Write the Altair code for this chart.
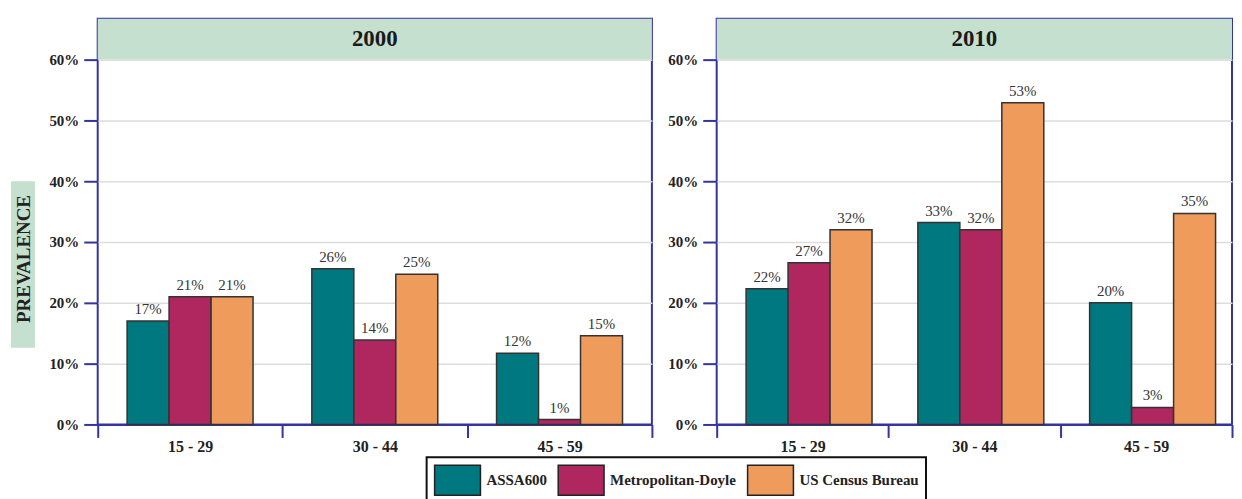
import altair as alt
import pandas as pd

groups = ["15 - 29", "30 - 44", "45 - 59"]
sources = ["ASSA600", "Metropolitan-Doyle", "US Census Bureau"]
colors = ["#00787f", "#b0265f", "#ee9b5b"]
years = ["2000", "2010"]
# values per age group, in source order
values_2000 = [[17.0, 21.0, 21.0], [25.6, 13.9, 24.7], [11.7, 0.8, 14.6]]
values_2010 = [[22.3, 26.6, 32.0], [33.2, 32.0, 52.9], [20.0, 2.8, 34.7]]
y_ticks = [0, 10, 20, 30, 40, 50, 60]
y_top = 66.7
band_low = 60
axis_label = "PREVALENCE"

FONT = "Liberation Serif"
BLUE = "#3434a0"
GREEN = "#c5e0cf"
H = 407


def make_df(vals):
    rows = []
    for g, row in zip(groups, vals):
        for s, v in zip(sources, row):
            rows.append({"group": g, "source": s, "value": v, "label": f"{round(v):d}%"})
    return pd.DataFrame(rows)


def panel(year, vals, W, with_ylabel):
    df = make_df(vals)
    yscale = alt.Scale(domain=[0, y_top], nice=False, zero=True)
    x = alt.X("group:N", sort=groups, title=None,
              scale=alt.Scale(paddingInner=0, paddingOuter=0),
              axis=alt.Axis(labelAngle=0, tickBand="extent"))
    xoff = alt.XOffset("source:N", sort=sources,
                       scale=alt.Scale(paddingOuter=0.7, paddingInner=0))
    band = alt.Chart(pd.DataFrame({"lo": [band_low], "hi": [y_top]})).mark_rect(
        color=GREEN).encode(
        x=alt.value(0), x2=alt.value(W),
        y=alt.Y("lo:Q", scale=yscale, title=None), y2="hi:Q")
    bars = alt.Chart(df).mark_bar(stroke="#333333", strokeWidth=1.5).encode(
        x=x, xOffset=xoff,
        y=alt.Y("value:Q", scale=yscale, title=None,
                axis=alt.Axis(values=y_ticks, labelExpr="datum.value + '%'")),
        color=alt.Color("source:N", sort=sources,
                        scale=alt.Scale(domain=sources, range=colors),
                        legend=alt.Legend(
                            title=None, orient="none", legendX=330, legendY=440,
                            direction="horizontal",
                            symbolType="M-1.533,-1H1.533V1H-1.533Z", symbolSize=900,
                            symbolOffset=8,
                            symbolStrokeColor="#222222", symbolStrokeWidth=1.5,
                            symbolOpacity=1,
                            labelFont=FONT, labelFontSize=15, labelFontWeight="bold",
                            labelColor="#222222", labelOffset=13, columnPadding=8,
                            padding=7, strokeColor="#111111")),
    )
    text = alt.Chart(df).mark_text(baseline="bottom", dy=-4, font=FONT,
                                   fontSize=15, color="#333333").encode(
        x=x, xOffset=xoff,
        y=alt.Y("value:Q", scale=yscale, title=None),
        text="label:N")
    title = alt.Chart(pd.DataFrame({"year": [year], "ymid": [(band_low + y_top) / 2]})).mark_text(
        font=FONT, fontSize=23, fontWeight="bold", color="#1a1a1a", baseline="middle").encode(
        x=alt.value(W / 2), y=alt.Y("ymid:Q", scale=yscale, title=None), text="year:N")
    layers = [band, bars, text, title]
    if with_ylabel:
        lab_df = pd.DataFrame({"t": [axis_label]})
        box = alt.Chart(lab_df).mark_rect(color=GREEN).encode(
            x=alt.value(-87), x2=alt.value(-63), y=alt.value(163), y2=alt.value(330))
        lab = alt.Chart(lab_df).mark_text(angle=270, font=FONT, fontSize=19,
                                          fontWeight="bold", color="#222222",
                                          baseline="middle", align="center").encode(
            x=alt.value(-74), y=alt.value(241), text="t:N")
        layers += [box, lab]
    return alt.layer(*layers).properties(width=W, height=H)


left = panel(years[0], values_2000, 556, True)
right = panel(years[1], values_2010, 517, False)

chart = alt.hconcat(left, right, spacing=13).properties(
    padding={"left": 2, "top": 9, "right": 0, "bottom": 0}
).configure_view(stroke=BLUE, strokeWidth=2).configure_axis(
    domainColor=BLUE, domainWidth=2, tickColor=BLUE, tickWidth=2,
    gridColor="#dddddd", gridWidth=1.5,
    labelFont=FONT, labelFontWeight="bold", labelFontSize=15, labelColor="#222222"
).configure_axisX(
    grid=False, tickSize=13, labelFontSize=16, labelPadding=1
).configure_axisY(
    tickSize=14, labelPadding=5, domain=False, minExtent=47, maxExtent=47
).configure_legend(strokeWidth=2)

chart.save("out.html", embed_options={"renderer": "svg", "actions": False})
